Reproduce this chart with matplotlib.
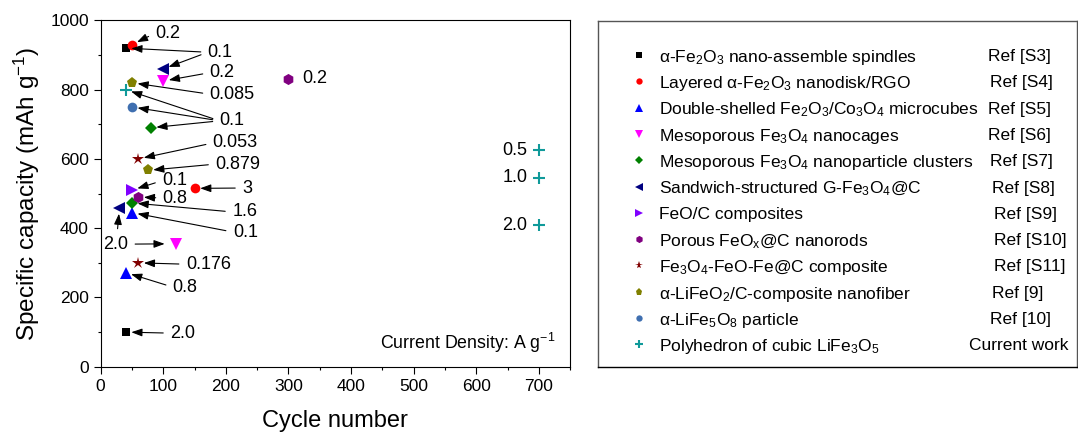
import matplotlib
matplotlib.use('Agg')
import matplotlib.pyplot as plt
from matplotlib.ticker import MultipleLocator

plt.rcParams['font.family'] = ['Liberation Sans', 'DejaVu Sans']
plt.rcParams['mathtext.fontset'] = 'custom'
plt.rcParams['mathtext.rm'] = 'Liberation Sans'
plt.rcParams['mathtext.it'] = 'Liberation Sans:italic'
plt.rcParams['mathtext.default'] = 'regular'

# data
names = ['α-Fe$_2$O$_3$ nano-assemble spindles',
         'Layered α-Fe$_2$O$_3$ nanodisk/RGO',
         'Double-shelled Fe$_2$O$_3$/Co$_3$O$_4$ microcubes',
         'Mesoporous Fe$_3$O$_4$ nanocages',
         'Mesoporous Fe$_3$O$_4$ nanoparticle clusters',
         'Sandwich-structured G-Fe$_3$O$_4$@C',
         'FeO/C composites',
         'Porous FeO$_x$@C nanorods',
         'Fe$_3$O$_4$-FeO-Fe@C composite',
         'α-LiFeO$_2$/C-composite nanofiber',
         'α-LiFe$_5$O$_8$ particle',
         'Polyhedron of cubic LiFe$_3$O$_5$']
refs = ['Ref [S3]', 'Ref [S4]', 'Ref [S5]', 'Ref [S6]', 'Ref [S7]', 'Ref [S8]',
        'Ref [S9]', 'Ref [S10]', 'Ref [S11]', 'Ref [9]', 'Ref [10]', 'Current work']
cycles = [[40, 40], [50, 150], [50, 40], [100, 120], [80, 50], [100, 30],
          [50], [60, 300], [60, 60], [50, 75], [50], [40, 700, 700, 700]]
capacity = [[920, 100], [930, 515], [445, 272], [825, 355], [690, 473], [860, 458],
            [510], [490, 832], [600, 300], [820, 567], [750], [800, 625, 545, 409]]

colors = ['#000000', '#ff0000', '#0000ff', '#ff00ff', '#008000', '#000080',
          '#8000ff', '#800080', '#800000', '#808000', '#3f6fb0', '#109a9a']
markers = ['s', 'o', '^', 'v', 'D', '<', '>', 'h', '*', 'p', 'o', '+']
msizes = [6, 7, 8, 8, 6, 8, 8, 8, 9, 8, 7, 8]

# annotations: label, text position (left-middle, data units), targets (series, point)
notes = [('0.2', 87, 963, [(1, 0)]),
         ('0.1', 171, 908, [(0, 0), (5, 0)]),
         ('0.2', 174, 849, [(3, 0)]),
         ('0.085', 174, 787, [(9, 0)]),
         ('0.1', 190, 710, [(11, 0), (10, 0), (4, 0)]),
         ('0.053', 179, 646, [(8, 0)]),
         ('0.879', 183, 585, [(9, 1)]),
         ('0.1', 98, 537, [(6, 0)]),
         ('3', 226, 516, [(1, 1)]),
         ('0.8', 99, 487, [(7, 0)]),
         ('1.6', 210, 447, [(4, 1)]),
         ('0.1', 211, 389, [(2, 0)]),
         ('0.176', 136, 296, [(8, 1)]),
         ('0.8', 115, 230, [(2, 1)]),
         ('2.0', 111, 97, [(0, 1)])]
rates_current = ['0.5', '1.0', '2.0']

fig = plt.figure(figsize=(10.78, 4.34), dpi=100)
ax = fig.add_axes([0.0934, 0.155, 0.4355, 0.798])

for i in range(len(names)):
    if markers[i] == '+':
        ax.plot(cycles[i], capacity[i], ls='none', marker='+', color=colors[i],
                ms=msizes[i], mew=1.5)
    else:
        ax.plot(cycles[i], capacity[i], ls='none', marker=markers[i], color=colors[i],
                ms=msizes[i], mew=0)

aprops = dict(arrowstyle='-|>,head_length=0.5,head_width=0.18', color='black',
              lw=0.8, shrinkA=3, shrinkB=4, relpos=(0, 0.5))
for label, tx, ty, targets in notes:
    for k, (s, p) in enumerate(targets):
        ax.annotate(label, xy=(cycles[s][p], capacity[s][p]), xytext=(tx, ty),
                    ha='left', va='center', fontsize=13,
                    color='black' if k == 0 else 'none', arrowprops=aprops)

# the "2.0" label pointing at two points
p2 = dict(aprops)
p2['relpos'] = (0.55, 1.0)
ax.annotate('2.0', xy=(cycles[5][1], capacity[5][1]), xytext=(4, 354),
            ha='left', va='center', fontsize=13, arrowprops=p2)
p3 = dict(aprops)
p3['relpos'] = (1.0, 0.5)
p3['shrinkB'] = 8
ax.annotate('2.0', xy=(cycles[3][1], capacity[3][1]), xytext=(4, 354),
            ha='left', va='center', fontsize=13, color='none', arrowprops=p3)

ax.text(cycles[7][1] + 22, capacity[7][1], '0.2', ha='left', va='center', fontsize=13)
for j, lab in enumerate(rates_current):
    ax.text(cycles[11][j + 1] - 18, capacity[11][j + 1], lab, ha='right', va='center',
            fontsize=13)

ax.text(0.97, 0.07, 'Current Density: A g$^{-1}$', transform=ax.transAxes,
        ha='right', va='center', fontsize=12.8)

ax.set_xlim(0, 750)
ax.set_ylim(0, 1000)
ax.xaxis.set_major_locator(MultipleLocator(100))
ax.xaxis.set_minor_locator(MultipleLocator(50))
ax.yaxis.set_major_locator(MultipleLocator(200))
ax.yaxis.set_minor_locator(MultipleLocator(100))
ax.tick_params(which='both', direction='out', top=False, right=False, labelsize=12.5,
               width=0.8)
ax.tick_params(which='major', length=5)
ax.tick_params(which='minor', length=2.5)
for sp in ax.spines.values():
    sp.set_linewidth(0.8)
ax.set_xlabel('Cycle number', fontsize=17, labelpad=12)
ax.set_ylabel('Specific capacity (mAh g$^{-1}$)', fontsize=17.5, labelpad=6)

# legend panel, pixel-like units
lax = fig.add_axes([598 / 1078, 67 / 434, 479 / 1078, 346 / 434])
lax.set_xlim(598, 1077)
lax.set_ylim(367, 21)
lax.set_xticks([])
lax.set_yticks([])
for sp in lax.spines.values():
    sp.set_linewidth(1.0)
    sp.set_color('#555555')
lax.spines['bottom'].set_color('black')

ref_x = [988, 990, 988, 988, 990, 992, 994, 994, 994, 992, 990, 969]
for i in range(len(names)):
    ry = 55 + i * 26.3
    if markers[i] == '+':
        lax.plot([639], [ry], ls='none', marker='+', color=colors[i], ms=6, mew=1.5)
    else:
        lax.plot([639], [ry], ls='none', marker=markers[i], color=colors[i],
                 ms=msizes[i] * 0.65, mew=0)
    lax.text(659, ry, names[i], ha='left', va='center_baseline', fontsize=12.5)
    lax.text(ref_x[i], ry, refs[i], ha='left', va='center_baseline', fontsize=12.5)

fig.savefig('out.png', dpi=100)
